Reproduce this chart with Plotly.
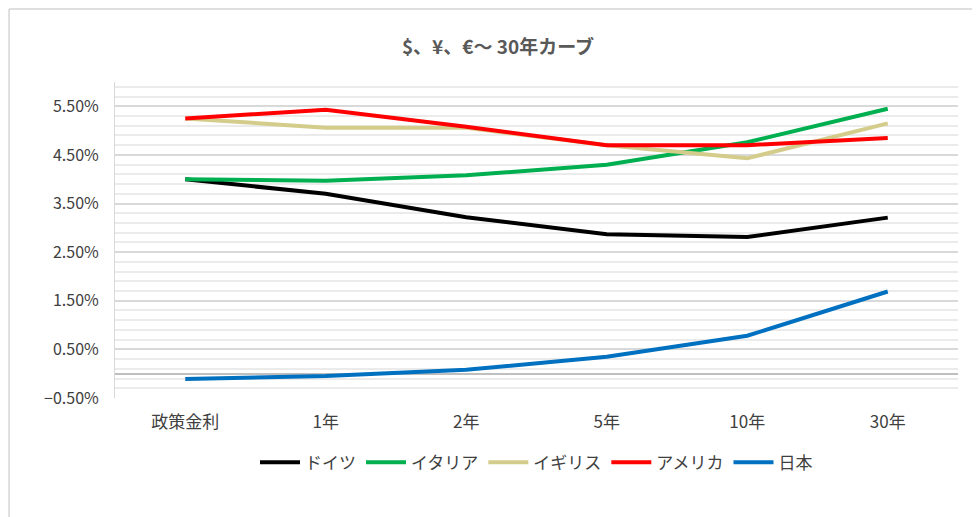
import plotly.graph_objects as go

categories = ["政策金利", "1年", "2年", "5年", "10年", "30年"]
germany = [4.00, 3.70, 3.22, 2.87, 2.81, 3.21]
italy = [4.00, 3.97, 4.08, 4.30, 4.76, 5.45]
uk = [5.25, 5.06, 5.06, 4.70, 4.43, 5.15]
usa = [5.25, 5.43, 5.08, 4.70, 4.70, 4.85]
japan = [-0.11, -0.05, 0.08, 0.35, 0.78, 1.69]

series = [("ドイツ", germany, "#000000"), ("イタリア", italy, "#00B050"),
          ("イギリス", uk, "#D4CC8A"), ("アメリカ", usa, "#FF0000"),
          ("日本", japan, "#0070C0")]

fig = go.Figure()
for name, vals, col in series:
    fig.add_trace(go.Scatter(x=categories, y=[v / 100 for v in vals], name=name,
                             mode="lines", line=dict(color=col, width=4)))

fig.update_layout(
    width=980, height=517, paper_bgcolor="white", plot_bgcolor="white",
    font=dict(family="Noto Sans CJK JP", size=15, color="#404040"),
    title=dict(text="<b>$、¥、€～ 30年カーブ</b>", x=0.5, y=0.923, xanchor="center",
               yanchor="middle", font=dict(size=19, color="#595959")),
    margin=dict(l=107, r=30, t=74, b=127, autoexpand=False),
    legend=dict(orientation="h", x=0.5, xanchor="center", y=-0.205, yanchor="middle",
                font=dict(size=17, color="#404040"), itemwidth=40),
    showlegend=True,
    shapes=[dict(type="rect", xref="paper", yref="paper", x0=-0.1257, x1=1.033,
                 y0=-0.399, y1=1.231, line=dict(color="#BFBFBF", width=1))],
)
fig.update_xaxes(range=[-0.5, 5.5], showgrid=False, showline=False, ticks="",
                 tickfont=dict(size=17), automargin=False, ticklabelstandoff=12)
fig.update_yaxes(range=[-0.005, 0.06], tickvals=[-0.005 + 0.01 * i for i in range(7)],
                 tickformat=".2%", showgrid=True, gridcolor="#D9D9D9", gridwidth=1.5,
                 minor=dict(dtick=0.002, tick0=-0.005, showgrid=True, gridcolor="#EBEBEB"),
                 zeroline=True, zerolinecolor="#BFBFBF", zerolinewidth=1.5,
                 showline=True, linecolor="#D9D9D9", ticks="", tickfont=dict(size=16),
                 ticklabelstandoff=12, automargin=False)
fig.write_html("out.html")
